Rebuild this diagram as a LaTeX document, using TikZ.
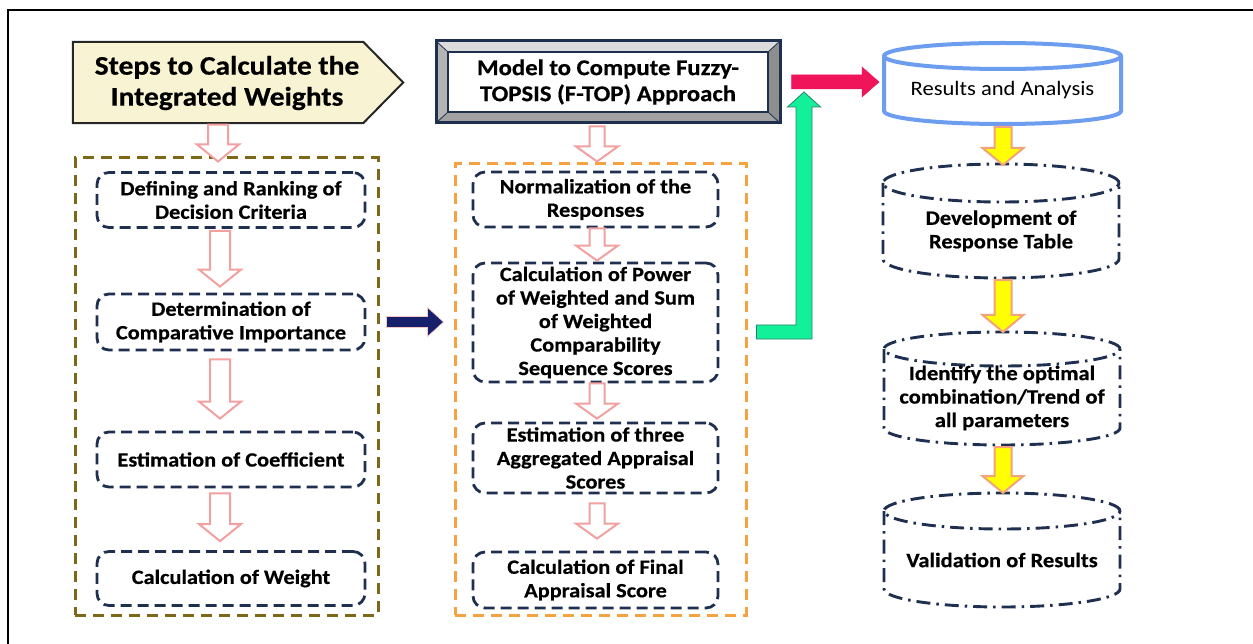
\documentclass[tikz,border=0pt]{standalone}
\usepackage{fontspec}
\setmainfont{Carlito}[FakeStretch=1.1, BoldFeatures={FakeBold=0.5}]
\usetikzlibrary{calc}
\definecolor{navyd}{HTML}{1F2F4F}
\definecolor{brownd}{HTML}{7D6718}
\definecolor{orangd}{HTML}{F4A340}
\definecolor{pinkl}{HTML}{F2A0A0}
\definecolor{yelhd}{HTML}{F8F4D3}
\definecolor{redar}{HTML}{F0155B}
\definecolor{greenar}{HTML}{12F09A}
\definecolor{greenln}{HTML}{2A7F66}
\definecolor{navyar}{HTML}{17206A}
\definecolor{bluec}{HTML}{6C9DEE}
\definecolor{yelar}{HTML}{FFFF00}
\definecolor{yelln}{HTML}{F3A27E}
\definecolor{bevtop}{HTML}{DCDCDC}
\definecolor{bevleft}{HTML}{B4B4B4}
\definecolor{bevright}{HTML}{8E8E8E}
\definecolor{bevbot}{HTML}{A2A2A2}
\newcommand{\drawcyl}[6]{%
  \draw[#1] (#2,#4) ellipse[x radius=#3pt, y radius=#6pt];
  \draw[#1] (#2-#3,#4) -- (#2-#3,#5) arc[start angle=180,end angle=360,x radius=#3pt,y radius=#6pt] -- (#2+#3,#4);}
\tikzset{
  blkdown/.style n args={3}{to path={let \p1=(\tikztostart),\p2=(\tikztotarget) in
    (\x1-#1pt,\y1) -- (\x1+#1pt,\y1) -- (\x1+#1pt,\y2+#3pt) -- (\x1+#2pt,\y2+#3pt) -- (\x1,\y2)
    -- (\x1-#2pt,\y2+#3pt) -- (\x1-#1pt,\y2+#3pt) -- cycle}},
  blkright/.style n args={3}{to path={let \p1=(\tikztostart),\p2=(\tikztotarget) in
    (\x1,\y1-#1pt) -- (\x2-#3pt,\y1-#1pt) -- (\x2-#3pt,\y1-#2pt) -- (\x2,\y1)
    -- (\x2-#3pt,\y1+#2pt) -- (\x2-#3pt,\y1+#1pt) -- (\x1,\y1+#1pt) -- cycle}},
  blkell/.style={to path={let \p1=(\tikztostart),\p2=(\tikztotarget) in
    (\x1,\y1+7pt) -- (\x2-8pt,\y1+7pt) -- (\x2-8pt,\y2-15pt) -- (\x2-16.5pt,\y2-15pt) -- (\x2,\y2)
    -- (\x2+16.5pt,\y2-15pt) -- (\x2+8pt,\y2-15pt) -- (\x2+8pt,\y1-7pt) -- (\x1,\y1-7pt) -- cycle}},
  hollow/.style={draw=pinkl, fill=white, line width=2pt, line join=miter},
  lhollow/.style={hollow, blkdown={10}{21}{17}},
  mhollow/.style={hollow, blkdown={7.5}{21}{15}},
  yarr/.style={draw=yelln, fill=yelar, line width=2pt, blkdown={8.5}{20.5}{17}},
  stepbox/.style={draw=navyd, line width=2.8pt, dash pattern=on 11pt off 6pt,
    rounded corners=12pt, align=center, inner sep=0pt,
    font=\bfseries\fontsize{20.3}{23.5}\selectfont},
  lbox/.style={stepbox, minimum width=268pt},
  mbox/.style={stepbox, minimum width=245pt},
  cont/.style={line width=3pt, dash pattern=on 11pt off 7pt, inner sep=0pt},
  cyltxt/.style={align=center, inner sep=0pt, font=\bfseries\fontsize{20.5}{23.5}\selectfont},
  dashdot/.style={draw=navyd, line width=2.9pt, dash pattern=on 14pt off 6pt on 2.5pt off 6pt},
}
\begin{document}
\begin{tikzpicture}[x=1pt,y=-1pt]
\useasboundingbox (0,0) rectangle (1253,644);
% frame
\draw[black, line width=2pt] (8,645) -- (8,10) -- (1254,10);

% left header
\node[minimum width=330pt, minimum height=81pt, inner sep=0pt] (hL) at (238,82.5) {};
\draw[draw=black!85, fill=yelhd, line width=2pt, line join=miter]
  (hL.north west) -- ($(hL.north east)+(-40,0)$) -- (hL.east) -- ($(hL.south east)+(-40,0)$)
  -- (hL.south west) -- cycle;
\node[align=center, inner sep=0pt, font=\bfseries\fontsize{26.8}{31}\selectfont] (tL) at (227,83)
  {Steps to Calculate the\\Integrated Weights};

% middle header (bevel frame)
\fill[bevtop] (436,41) -- (780,41) -- (768,52) -- (448,52) -- cycle;
\fill[bevleft] (436,41) -- (448,52) -- (448,112) -- (436,123) -- cycle;
\fill[bevright] (780,41) -- (768,52) -- (768,112) -- (780,123) -- cycle;
\fill[bevbot] (436,123) -- (448,112) -- (768,112) -- (780,123) -- cycle;
\draw[navyd, line width=0.8pt] (436,41) -- (448,52) (780,41) -- (768,52) (436,123) -- (448,112) (780,123) -- (768,112);
\draw[navyd, line width=2pt, fill=white] (448,52) rectangle (768,112);
\node[draw=navyd, line width=3pt, minimum width=344pt, minimum height=82pt, align=center, inner sep=0pt,
  font=\bfseries\fontsize{22.5}{26}\selectfont] (hM) at (608,82)
  {Model to Compute Fuzzy-\\TOPSIS (F-TOP) Approach};

% containers
\node[cont, draw=brownd, minimum width=303pt, minimum height=457pt] (LC) at (226.5,386.5) {};
\node[cont, draw=orangd, minimum width=291pt, minimum height=451pt] (MC) at (600.5,389.5) {};

% left boxes
\node[lbox, minimum height=55pt] (L1) at (231,200) {Defining and Ranking of\\Decision Criteria};
\node[lbox, minimum height=56pt] (L2) at (231,322) {Determination of\\Comparative Importance};
\node[lbox, minimum height=55pt] (L3) at (231,459.5) {Estimation of Coefficient};
\node[lbox, minimum height=54pt] (L4) at (231,578.5) {Calculation of Weight};

% middle boxes
\node[mbox, minimum height=55pt] (M1) at (595.5,199.5) {Normalization of the\\Responses};
\node[mbox, minimum height=119pt] (M2) at (595.5,322.5) {Calculation of Power\\of Weighted and Sum\\of Weighted\\Comparability\\Sequence Scores};
\node[mbox, minimum height=70pt] (M3) at (595.5,458) {Estimation of three\\Aggregated Appraisal\\Scores};
\node[mbox, minimum height=56pt] (M4) at (595.5,580) {Calculation of Final\\Appraisal Score};

% hollow pink arrows, left column
\draw[lhollow] ($(hL.south)+(-20,1.5)$) to ($(LC.north)+(-8.5,5)$);
\draw[lhollow] ($(L1.south)+(-11,2)$) to ($(L2.north)+(-11,-6)$);
\draw[lhollow] ($(L2.south)+(-11,8)$) to ($(L3.north)+(-11,-12)$);
\draw[lhollow] ($(L3.south)+(-11,5)$) to ($(L4.north)+(-11,-9)$);

% hollow pink arrows, middle column
\draw[mhollow] ($(hM.south)+(-11,2)$) to ($(MC.north)+(-4,-1)$);
\draw[mhollow] ($(M1.south)+(1.5,0)$) to ($(M2.north)+(1.5,-1)$);
\draw[mhollow] ($(M2.south)+(1.5,0)$) to ($(M3.north)+(1.5,-3)$);
\draw[mhollow] ($(M3.south)+(1.5,9)$) to ($(M4.north)+(1.5,-12)$);

% navy arrow between containers
\draw[navyar, fill=navyar, draw=pinkl!60, line width=0.6pt, blkright={5.5}{14.5}{16}]
  ($(LC.east)+(7,-64.5)$) to ($(MC.west)+(-10,-67.5)$);

% green L arrow and red arrow
\coordinate (g1) at (804,92);
\draw[fill=greenar, draw=greenln, line width=0.8pt, blkell] ($(MC.east)+(9,-57.5)$) to (g1);
\coordinate (c1w) at (879,82);
\draw[fill=redar, draw=redar, line width=0.5pt, blkright={7}{15}{17}] ($(hM.east)+(10,0)$) to (c1w);

% right column cylinders
\drawcyl{draw=bluec, line width=4pt}{1002.5}{118.5}{56}{111}{13}
\node[inner sep=0pt, font=\fontsize{20.5}{22}\selectfont] (c1) at (1002.5,90) {Results and Analysis};
\drawcyl{dashdot}{1001}{118}{183}{259}{19}
\node[cyltxt] (c2) at (1001,231) {Development of\\Response Table};
\drawcyl{dashdot}{1002}{118}{349}{428}{17}
\node[cyltxt] (c3) at (1002,398) {Identify the optimal\\combination/Trend of\\all parameters};
\drawcyl{dashdot}{1002}{118}{511}{589}{18}
\node[cyltxt] (c4) at (1002,560) {Validation of Results};

\coordinate (c1b) at (1003,127);
\coordinate (c2t) at (1003,165);
\coordinate (c2b) at (1003,280);
\coordinate (c3t) at (1003,332);
\coordinate (c3b) at (1003,447);
\coordinate (c4t) at (1003,493);
\draw[yarr] (c1b) to (c2t);
\draw[yarr] (c2b) to (c3t);
\draw[yarr] (c3b) to (c4t);
\end{tikzpicture}
\end{document}
